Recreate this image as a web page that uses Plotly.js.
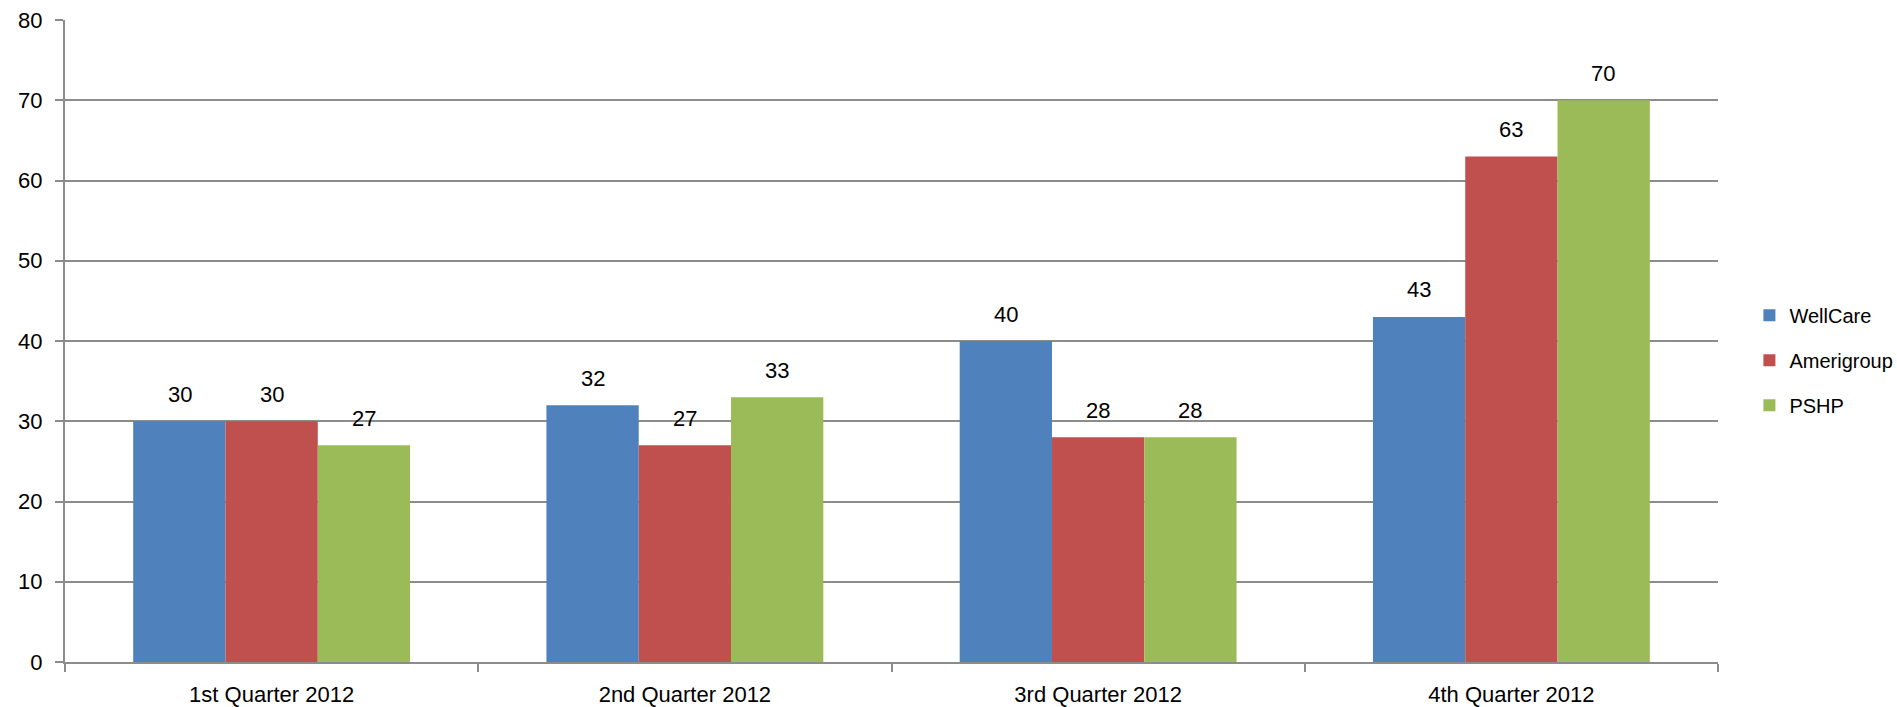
<!DOCTYPE html>
<html>
<head>
<meta charset="utf-8">
<script src="https://cdn.plot.ly/plotly-3.0.1.min.js"></script>
<style>html,body{margin:0;padding:0;background:#fff;}#chart{width:1897px;height:707px;}</style>
</head>
<body>
<div id="chart"></div>
<script>
const categories = ["1st Quarter 2012", "2nd Quarter 2012", "3rd Quarter 2012", "4th Quarter 2012"];
const seriesNames = ["WellCare", "Amerigroup", "PSHP"];
const wellcare = [30, 32, 40, 43];
const amerigroup = [30, 27, 28, 63];
const pshp = [27, 33, 28, 70];
const yTicks = [0, 10, 20, 30, 40, 50, 60, 70, 80];

const colors = ["#4F81BD", "#C0504D", "#9BBB59"];
const FONT = "'Liberation Sans Narrow', 'Arial Narrow', 'Liberation Sans', Arial, sans-serif";
const FS = 22;
const allSeries = [wellcare, amerigroup, pshp];

const traces = allSeries.map((vals, i) => ({
  type: 'bar',
  name: seriesNames[i],
  x: categories,
  y: vals,
  marker: {color: colors[i], line: {width: 0}},
  legendgroup: 'g' + i,
  hoverinfo: 'none'
}));

const barPx = 92;
const annotations = [];
allSeries.forEach((vals, i) => {
  vals.forEach((v, j) => {
    annotations.push({
      x: categories[j], y: v, xref: 'x', yref: 'y',
      text: String(v), showarrow: false,
      xshift: (i - 1) * barPx, yshift: 27,
      yanchor: 'middle',
      font: {family: FONT, size: FS, color: '#000'}
    });
  });
});

const layout = {
  width: 1897, height: 707,
  margin: {l: 65, r: 179, t: 20, b: 45, autoexpand: false},
  paper_bgcolor: '#fff', plot_bgcolor: '#fff',
  barmode: 'group',
  bargap: 0.33, bargroupgap: 0,
  font: {family: FONT, size: FS, color: '#000'},
  showlegend: true,
  legend: {
    x: 1.019, y: 0.47, xanchor: 'left', yanchor: 'middle',
    font: {family: FONT, size: 20, color: '#000'},
    tracegroupgap: 16,
    itemwidth: 30,
    itemclick: false
  },
  xaxis: {
    type: 'category',
    showline: true, linecolor: '#8c8c8c', linewidth: 2,
    ticks: 'outside', tickson: 'boundaries', ticklen: 8, tickcolor: '#8c8c8c', tickwidth: 2,
    showgrid: false,
    tickfont: {family: FONT, size: FS, color: '#000'},
    ticklabelstandoff: 12,
    fixedrange: true
  },
  yaxis: {
    range: [0, 80],
    tickvals: yTicks,
    ticktext: yTicks.map(String),
    showline: true, linecolor: '#8c8c8c', linewidth: 2,
    ticks: 'outside', ticklen: 8, tickcolor: '#8c8c8c', tickwidth: 2,
    showgrid: true, gridcolor: '#8c8c8c', gridwidth: 2,
    zeroline: false,
    tickfont: {family: FONT, size: FS, color: '#000'},
    ticklabelstandoff: 8,
    fixedrange: true
  },
  annotations: annotations
};

Plotly.newPlot('chart', traces, layout, {displayModeBar: false, staticPlot: true});
</script>
</body>
</html>
